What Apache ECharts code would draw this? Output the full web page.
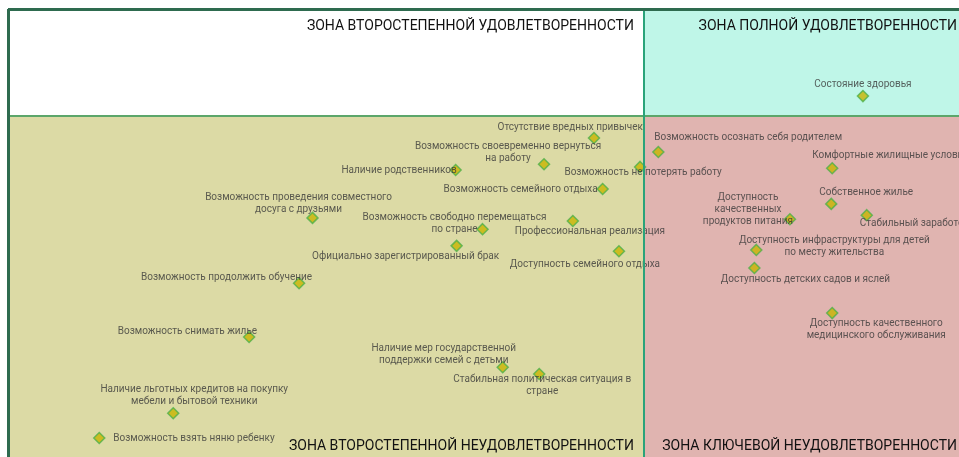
<!DOCTYPE html>
<html>
<head>
<meta charset="utf-8">
<script src="https://cdn.jsdelivr.net/npm/echarts@6/dist/echarts.min.js"></script>
<style>
    html, body { margin: 0; padding: 0; background: #fff; }
    #chart { width: 959px; height: 457px; }
</style>
</head>
<body>
<div id="chart"></div>
<script>
// факторы (подписи точек)
const factorNames = [
    "Отсутствие вредных привычек",
    "Возможность своевременно вернуться\nна работу",
    "Наличие родственников",
    "Возможность не потерять работу",
    "Возможность семейного отдыха",
    "Возможность проведения совместного\nдосуга с друзьями",
    "Возможность свободно перемещаться\nпо стране",
    "Профессиональная реализация",
    "Официально зарегистрированный брак",
    "Доступность семейного отдыха",
    "Возможность продолжить обучение",
    "Возможность осознать себя родителем",
    "Комфортные жилищные условия",
    "Собственное жилье",
    "Стабильный заработок",
    "Доступность\nкачественных\nпродуктов питания",
    "Доступность инфраструктуры для детей\nпо месту жительства",
    "Доступность детских садов и яслей",
    "Состояние здоровья",
    "Доступность качественного\nмедицинского обслуживания",
    "Возможность снимать жилье",
    "Наличие льготных кредитов на покупку\nмебели и бытовой техники",
    "Возможность взять няню ребенку",
    "Наличие мер государственной\nподдержки семей с детьми",
    "Стабильная политическая ситуация в\nстране"
];
// важность (ось X)
const importance = [
    61.0, 55.8, 46.6, 65.8, 61.9, 31.7, 49.4, 58.8, 46.7, 63.6,
    30.3, 67.7, 85.8, 85.7, 89.4, 81.4, 77.9, 77.7, 89.0, 85.8,
    25.1, 17.2, 9.5, 51.5, 55.3
];
// удовлетворенность (ось Y)
const satisfaction = [
    71.4, 65.6, 64.3, 65.0, 60.1, 53.7, 51.2, 53.0, 47.5, 46.3,
    39.2, 68.3, 64.7, 56.8, 54.3, 53.4, 46.6, 42.6, 80.7, 32.6,
    27.3, 10.4, 4.9, 20.6, 19.1
];
// границы зон
const importanceSplit = 66.2;
const satisfactionSplit = 76.3;
const zoneTitles = [
    "ЗОНА ВТОРОСТЕПЕННОЙ УДОВЛЕТВОРЕННОСТИ",
    "ЗОНА ПОЛНОЙ УДОВЛЕТВОРЕННОСТИ",
    "ЗОНА ВТОРОСТЕПЕННОЙ НЕУДОВЛЕТВОРЕННОСТИ",
    "ЗОНА КЛЮЧЕВОЙ НЕУДОВЛЕТВОРЕННОСТИ"
];

// видимая часть поля (справа и снизу рисунок обрезан)
const xMin = 0, xMax = 99;
const yMin = 0.7, yMax = 100;

// размещение подписей: [dx, dy, align]
const labelPlaces = [
    [49, -11, "right"], [-36, -12, "center"], [1, 0, "right"], [3, 6, "center"], [-5, 0, "right"],
    [-14, -14, "center"], [-28, -6, "center"], [17, 10, "center"], [-51, 11, "center"], [-34, 13, "center"],
    [13, -6, "right"], [-4, -15, "left"], [-20, -13, "left"], [35, -11, "center"], [-7, 8, "left"],
    [-42, -10, "center"], [78, -3, "center"], [51, 12, "center"], [0, -12, "center"], [44, 16, "center"],
    [8, -5, "right"], [21, -18, "center"], [14, 0, "left"], [-59, -13, "center"], [3, 12, "center"]
];

const chart = echarts.init(document.getElementById("chart"));

const points = factorNames.map((name, i) => {
    const p = labelPlaces[i];
    return {
        name: name,
        value: [importance[i], satisfaction[i]],
        label: {
            offset: [p[0], p[1]],
            align: p[2]
        }
    };
});

function zoneLabel(title, position, dx) {
    return {
        show: true,
        position: position,
        formatter: title,
        color: "#111",
        fontFamily: "Roboto",
        fontSize: 14,
        fontWeight: "normal",
        offset: position === "insideTopRight" ? [dx, 5] : [dx, 1]
    };
}

chart.setOption({
    animation: false,
    grid: {
        left: 8,
        top: 9,
        right: 0,
        bottom: 0,
        show: false
    },
    xAxis: {
        type: "value",
        min: xMin,
        max: xMax,
        show: false,
        splitLine: { show: false }
    },
    yAxis: {
        type: "value",
        min: yMin,
        max: yMax,
        show: false,
        splitLine: { show: false }
    },
    series: [{
        type: "scatter",
        symbol: "diamond",
        symbolSize: 11,
        clip: false,
        itemStyle: {
            color: "#c8b400",
            borderColor: "#4db04a",
            borderWidth: 1.5
        },
        label: {
            show: true,
            position: "inside",
            formatter: "{b}",
            color: "#383838",
            fontFamily: "Roboto",
            fontSize: 10,
            lineHeight: 12,
            verticalAlign: "middle"
        },
        data: points,
        markArea: {
            silent: true,
            data: [
                [
                    { xAxis: xMin, yAxis: satisfactionSplit, itemStyle: { color: "#ffffff" }, label: zoneLabel(zoneTitles[0], "insideTopRight", -5) },
                    { xAxis: importanceSplit, yAxis: yMax }
                ],
                [
                    { xAxis: importanceSplit, yAxis: satisfactionSplit, itemStyle: { color: "#bff6e8" }, label: zoneLabel(zoneTitles[1], "insideTopRight", 3) },
                    { xAxis: xMax, yAxis: yMax }
                ],
                [
                    { xAxis: xMin, yAxis: yMin, itemStyle: { color: "#dcdaa5" }, label: zoneLabel(zoneTitles[2], "insideBottomRight", -5) },
                    { xAxis: importanceSplit, yAxis: satisfactionSplit }
                ],
                [
                    { xAxis: importanceSplit, yAxis: yMin, itemStyle: { color: "#e0b4b0" }, label: zoneLabel(zoneTitles[3], "insideBottomRight", 3) },
                    { xAxis: xMax, yAxis: satisfactionSplit }
                ]
            ]
        },
        markLine: {
            silent: true,
            symbol: "none",
            label: { show: false },
            data: [
                { yAxis: satisfactionSplit, lineStyle: { color: "#5ca66a", width: 2, type: "solid" } },
                { xAxis: importanceSplit, lineStyle: { color: "#2aa37a", width: 2, type: "solid" } },
                { xAxis: xMin, lineStyle: { color: "#2e6b4f", width: 3, type: "solid" } },
                { yAxis: yMax, lineStyle: { color: "#2e6b4f", width: 3, type: "solid" } }
            ]
        }
    }]
});
</script>
</body>
</html>
